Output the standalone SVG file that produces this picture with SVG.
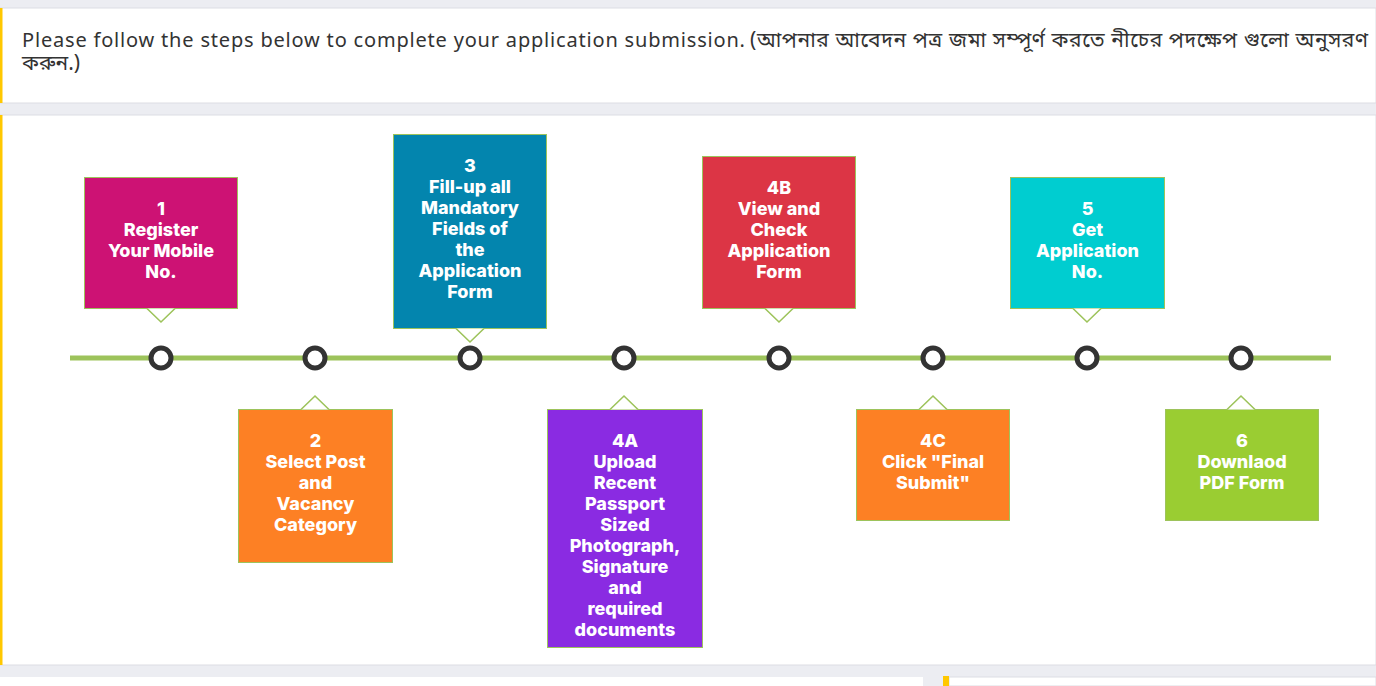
<svg xmlns="http://www.w3.org/2000/svg" width="1376" height="686" viewBox="0 0 1376 686">
<style>
.lbl{font-family:Inter,"Open Sans","Liberation Sans",sans-serif;font-weight:800;font-size:18px;fill:#ffffff;text-anchor:middle}
.box{stroke:#9dc35b;stroke-width:1}
.ptr{fill:#ffffff;stroke:#9dc35b;stroke-width:1.6}
.dot{fill:#ffffff;stroke:#333333;stroke-width:5}
.hdr{font-family:"Noto Sans","Noto Sans Bengali","Liberation Sans",sans-serif;font-size:20px;fill:#333333}
.bn{font-size:21px}
</style>
<rect width="1376" height="686" fill="#ecedf2"/>
<g id="header">
<rect x="0" y="8" width="1376" height="95" fill="#ffffff" stroke="#dcdde3" stroke-width="1"/>
<rect x="0" y="8" width="2.5" height="95" fill="#ffc800"/>
<text class="hdr" x="22" y="47" textLength="723" lengthAdjust="spacing">Please follow the steps below to complete your application submission.</text>
<text class="hdr bn" x="750" y="47" textLength="618" lengthAdjust="spacing">(আপনার আবেদন পত্র জমা সম্পূর্ণ করতে নীচের পদক্ষেপ গুলো অনুসরণ</text>
<text class="hdr bn" x="22" y="70">করুন.)</text>
</g>
<g id="panel">
<rect x="0" y="115" width="1376" height="550" fill="#ffffff" stroke="#dcdde3" stroke-width="1"/>
<rect x="0" y="115" width="2.5" height="550" fill="#ffc800"/>
<rect x="0" y="677" width="923" height="9" fill="#ffffff"/>
<rect x="949" y="677" width="427" height="9" fill="#ffffff" stroke="#dcdde3" stroke-width="1"/>
<rect x="943" y="676" width="6" height="10" fill="#ffc800"/>
</g>
<g id="connectors">
<line x1="70" y1="358" x2="1331" y2="358" stroke="#9dc35b" stroke-width="5"/>
</g>
<g id="step1">
<rect class="box" x="84.5" y="177.5" width="153" height="131" fill="#cd1274"/>
<path class="ptr" d="M147 308.5 L161 322 L175 308.5"/>
<text class="lbl" x="161" y="215">1</text>
<text class="lbl" x="161" y="236">Register</text>
<text class="lbl" x="161" y="257">Your Mobile</text>
<text class="lbl" x="161" y="278">No.</text>
<circle class="dot" cx="161" cy="358" r="10"/>
</g>
<g id="step2">
<rect class="box" x="238.5" y="409.5" width="154" height="153" fill="#fd8024"/>
<path class="ptr" d="M301 409.5 L315 396 L329 409.5"/>
<text class="lbl" x="315.5" y="447">2</text>
<text class="lbl" x="315.5" y="468">Select Post</text>
<text class="lbl" x="315.5" y="489">and</text>
<text class="lbl" x="315.5" y="510">Vacancy</text>
<text class="lbl" x="315.5" y="531">Category</text>
<circle class="dot" cx="315" cy="358" r="10"/>
</g>
<g id="step3">
<rect class="box" x="393.5" y="134.5" width="153" height="194" fill="#0385ae"/>
<path class="ptr" d="M456 328.5 L470 342 L484 328.5"/>
<text class="lbl" x="470" y="172">3</text>
<text class="lbl" x="470" y="193">Fill-up all</text>
<text class="lbl" x="470" y="214">Mandatory</text>
<text class="lbl" x="470" y="235">Fields of</text>
<text class="lbl" x="470" y="256">the</text>
<text class="lbl" x="470" y="277">Application</text>
<text class="lbl" x="470" y="298">Form</text>
<circle class="dot" cx="470" cy="358" r="10"/>
</g>
<g id="step4A">
<rect class="box" x="547.5" y="409.5" width="155" height="238" fill="#8a2be2"/>
<path class="ptr" d="M610 409.5 L624 396 L638 409.5"/>
<text class="lbl" x="625" y="447">4A</text>
<text class="lbl" x="625" y="468">Upload</text>
<text class="lbl" x="625" y="489">Recent</text>
<text class="lbl" x="625" y="510">Passport</text>
<text class="lbl" x="625" y="531">Sized</text>
<text class="lbl" x="625" y="552">Photograph,</text>
<text class="lbl" x="625" y="573">Signature</text>
<text class="lbl" x="625" y="594">and</text>
<text class="lbl" x="625" y="615">required</text>
<text class="lbl" x="625" y="636">documents</text>
<circle class="dot" cx="624" cy="358" r="10"/>
</g>
<g id="step4B">
<rect class="box" x="702.5" y="156.5" width="153" height="152" fill="#dc3545"/>
<path class="ptr" d="M765 308.5 L779 322 L793 308.5"/>
<text class="lbl" x="779" y="194">4B</text>
<text class="lbl" x="779" y="215">View and</text>
<text class="lbl" x="779" y="236">Check</text>
<text class="lbl" x="779" y="257">Application</text>
<text class="lbl" x="779" y="278">Form</text>
<circle class="dot" cx="779" cy="358" r="10"/>
</g>
<g id="step4C">
<rect class="box" x="856.5" y="409.5" width="153" height="111" fill="#fd8024"/>
<path class="ptr" d="M919 409.5 L933 396 L947 409.5"/>
<text class="lbl" x="933" y="447">4C</text>
<text class="lbl" x="933" y="468">Click "Final</text>
<text class="lbl" x="933" y="489">Submit"</text>
<circle class="dot" cx="933" cy="358" r="10"/>
</g>
<g id="step5">
<rect class="box" x="1010.5" y="177.5" width="154" height="131" fill="#00cdd0"/>
<path class="ptr" d="M1073 308.5 L1087 322 L1101 308.5"/>
<text class="lbl" x="1087.5" y="215">5</text>
<text class="lbl" x="1087.5" y="236">Get</text>
<text class="lbl" x="1087.5" y="257">Application</text>
<text class="lbl" x="1087.5" y="278">No.</text>
<circle class="dot" cx="1087" cy="358" r="10"/>
</g>
<g id="step6">
<rect class="box" x="1165.5" y="409.5" width="153" height="111" fill="#9acd32"/>
<path class="ptr" d="M1227 409.5 L1241 396 L1255 409.5"/>
<text class="lbl" x="1242" y="447">6</text>
<text class="lbl" x="1242" y="468">Downlaod</text>
<text class="lbl" x="1242" y="489">PDF Form</text>
<circle class="dot" cx="1241" cy="358" r="10"/>
</g>
</svg>
